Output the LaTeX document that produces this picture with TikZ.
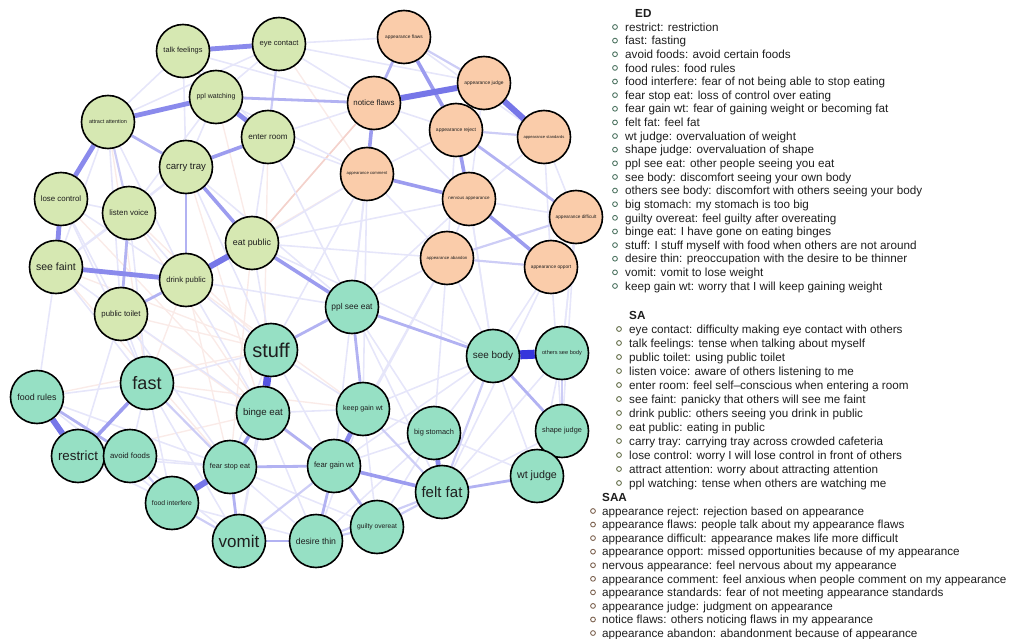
\documentclass[tikz,border=0pt]{standalone}
\usepackage{fontspec}
\setmainfont{Liberation Sans}
\usetikzlibrary{backgrounds}
\definecolor{sacol}{HTML}{D6E8B2}
\definecolor{edcol}{HTML}{96E0C4}
\definecolor{saacol}{HTML}{FACCAA}
\definecolor{txtcol}{HTML}{1E1E1E}
\definecolor{cb1}{HTML}{E6E6FA}
\definecolor{cb2}{HTML}{CDCDF6}
\definecolor{cb3}{HTML}{B2B2F2}
\definecolor{cb4}{HTML}{9C9CEF}
\definecolor{cb5}{HTML}{8A8AEC}
\definecolor{cb6}{HTML}{7676E8}
\definecolor{cb8}{HTML}{5555E2}
\definecolor{cb9}{HTML}{3535DC}
\definecolor{cr1}{HTML}{FAEBE8}
\definecolor{cr2}{HTML}{F4D2CC}
\definecolor{buled}{HTML}{4F7563}
\definecolor{bulsa}{HTML}{66704C}
\definecolor{bulsaa}{HTML}{7E6452}
\newcommand\nfs[1]{\fontsize{#1}{#1}\selectfont}
\tikzset{
  vx/.style={circle, draw=black, line width=1.6pt, minimum size=53pt, inner sep=0pt, text=txtcol},
  sa/.style={vx, fill=sacol},
  ed/.style={vx, fill=edcol},
  saa/.style={vx, fill=saacol},
  bl1/.style={draw=cb1, line width=1.6pt},
  bl2/.style={draw=cb2, line width=2.2pt},
  bl3/.style={draw=cb3, line width=2.8pt},
  bl4/.style={draw=cb4, line width=3.6pt},
  bl5/.style={draw=cb5, line width=4.8pt},
  bl6/.style={draw=cb6, line width=6pt},
  bl8/.style={draw=cb8, line width=7.5pt},
  bl9/.style={draw=cb9, line width=9pt},
  rd1/.style={draw=cr1, line width=1.4pt},
  rd2/.style={draw=cr2, line width=1.6pt},
  legtxt/.style={anchor=base west, inner sep=0pt, font=\nfs{11.7}, text=txtcol},
  leghead/.style={anchor=base west, inner sep=0pt, font=\nfs{11.7}\bfseries, text=txtcol},
  bul/.style={circle, draw=#1, line width=0.9pt, minimum size=4.8pt, inner sep=0pt},
}
\begin{document}
\begin{tikzpicture}[x=1pt,y=-1pt]
\useasboundingbox (0,0) rectangle (1009,639);
% ---- SA nodes
\node[sa, font=\nfs{7.4}] (tf) at (183,51) {talk feelings};
\node[sa, font=\nfs{7.6}] (ec) at (279,44) {eye contact};
\node[sa, font=\nfs{7.0}] (pw) at (216,97) {ppl watching};
\node[sa, font=\nfs{5.5}] (aa) at (108,122) {attract attention};
\node[sa, font=\nfs{8.1}] (er) at (268,137) {enter room};
\node[sa, font=\nfs{9.6}] (ct) at (186,167) {carry tray};
\node[sa, font=\nfs{7.9}] (lc) at (61,199) {lose control};
\node[sa, font=\nfs{7.9}] (lv) at (129,213) {listen voice};
\node[sa, font=\nfs{8.9}] (ep) at (252,243) {eat public};
\node[sa, font=\nfs{10.5}] (sf) at (56,267) {see faint};
\node[sa, font=\nfs{7.8}] (dp) at (186,280) {drink public};
\node[sa, font=\nfs{7.8}] (pt) at (121,314) {public toilet};
% ---- SAA nodes
\node[saa, font=\nfs{4.8}] (af) at (404,37) {appearance flaws};
\node[saa, font=\nfs{4.9}] (aj) at (484,83) {appearance judge};
\node[saa, font=\nfs{7.9}] (nf) at (374,103) {notice flaws};
\node[saa, font=\nfs{5.0}] (ar) at (456,130) {appearance reject};
\node[saa, font=\nfs{4.1}] (as) at (544,137) {appearance standards};
\node[saa, font=\nfs{4.2}] (ac) at (367,174) {appearance comment};
\node[saa, font=\nfs{4.5}] (na) at (469,199) {nervous appearance};
\node[saa, font=\nfs{4.7}] (ad) at (576,217) {appearance difficult};
\node[saa, font=\nfs{4.3}] (ab) at (447,258) {appearance abandon};
\node[saa, font=\nfs{4.8}] (ao) at (551,267) {appearance opport};
% ---- ED nodes
\node[ed, font=\nfs{8.4}] (pse) at (352,307) {ppl see eat};
\node[ed, font=\nfs{20}] (st) at (271,350) {stuff};
\node[ed, font=\nfs{18}] (fa) at (147,383) {fast};
\node[ed, font=\nfs{8.9}] (fr) at (37,397) {food rules};
\node[ed, font=\nfs{9.7}] (be) at (263,413) {binge eat};
\node[ed, font=\nfs{13.3}] (re) at (78,456) {restrict};
\node[ed, font=\nfs{7.8}] (av) at (130,456) {avoid foods};
\node[ed, font=\nfs{7.2}] (fse) at (230,467) {fear stop eat};
\node[ed, font=\nfs{6.8}] (fi) at (172,503) {food interfere};
\node[ed, font=\nfs{17}] (vo) at (239,541) {vomit};
\node[ed, font=\nfs{8.7}] (dt) at (316,541) {desire thin};
\node[ed, font=\nfs{9.9}] (sb) at (493,356) {see body};
\node[ed, font=\nfs{5.6}] (osb) at (562,353) {others see body};
\node[ed, font=\nfs{7.1}] (kgw) at (363,409) {keep gain wt};
\node[ed, font=\nfs{7.4}] (bs) at (434,433) {big stomach};
\node[ed, font=\nfs{7.3}] (sj) at (562,431) {shape judge};
\node[ed, font=\nfs{7.7}] (fgw) at (334,466) {fear gain wt};
\node[ed, font=\nfs{10.7}] (wj) at (537,476) {wt judge};
\node[ed, font=\nfs{15}] (ff) at (442,492) {felt fat};
\node[ed, font=\nfs{6.7}] (go) at (377,527) {guilty overeat};
% ---- edges
\begin{pgfonlayer}{background}
\foreach \a/\b in {nf/ep, ec/ac, ac/dp, st/lv, sf/st, pt/st, dp/fse, lv/be, lc/be, fr/st, fa/dp, ct/be, er/be, aa/fa,
  pw/ep, sf/fse, pt/fgw, dp/kgw, ep/fse, fa/kgw, re/be}
  \draw[rd1] (\a) -- (\b);
\draw[rd2] (nf) -- (ep);
% faint web
\foreach \a/\b in {tf/aa, tf/er, tf/ct, ec/pw, ec/aa, ec/af, ec/nf, pw/ct, pw/lv, aa/sf, aa/dp, er/ep, er/nf, er/ac,
  ct/lv, ct/sf, ct/pse, lc/lv, lc/dp, lc/pt, lv/sf, lv/dp, sf/pt, ep/ac, ep/na, ep/st, dp/st, dp/be, pt/fa, pt/fse, pt/be,
  pse/ab, pse/na, pse/ac, pse/fgw, pse/ff, pse/bs, st/fa, st/fse, st/kgw, st/fgw, st/vo, fa/fr, fa/av, fa/be, fa/fi, fa/vo,
  fr/fi, fr/fse, re/fi, re/fse, av/fse, av/vo, be/vo, be/kgw, be/dt, fse/dt, fse/go, fi/dt, kgw/bs, kgw/dt, kgw/go, kgw/sb,
  bs/sb, bs/go, bs/dt, bs/wj, bs/fgw, fgw/sb, ff/sj, ff/osb, wj/sb, wj/osb, sj/ad, sb/ab, sb/ao, sb/na, osb/ad, ac/ab, ac/ar,
  nf/na, nf/ar, af/as, aj/na, as/na, as/ad, as/ao, na/ad, na/ab, ar/ab, ao/sj, ab/fgw, ac/kgw, ab/bs, tf/nf, pw/ac, ec/aj,
  er/pse, ep/sb, dp/pse, lv/fa, sf/fa, pt/re, ct/st, aa/pt, ep/ab, ac/st, nf/pse, ad/osb, ao/ff, ab/kgw, na/sb, fr/sf, lc/fa}
  \draw[bl1] (\a) -- (\b);
% medium and strong
\foreach \a/\b in {tf/pw, ec/er, aa/lv, ab/ao, af/aj, ar/as, ab/ad, dt/go, fi/vo, av/fi, fa/fse, kgw/ff, dt/ff, go/ff, sb/ff, osb/sj, fgw/vo}
  \draw[bl2] (\a) -- (\b);
\foreach \a/\b in {ct/dp, lv/pt, pw/nf, aa/ct, af/nf, ar/ad, ff/wj, sb/sj, pse/sb, pse/st, pse/kgw, vo/dt, vo/fse, fr/av, dt/fgw, be/fgw, fse/fgw, fgw/go, dp/pt}
  \draw[bl3] (\a) -- (\b);
\foreach \a/\b in {er/ct, nf/ac, ac/na, ep/pse, ct/ep, af/ar, ar/na, na/ao, re/fa, fse/be, fgw/ff}
  \draw[bl4] (\a) -- (\b);
\foreach \a/\b in {bs/ff, tf/ec, pw/aa, pw/er, aa/lc, lc/sf, sf/dp, re/av, kgw/fgw}
  \draw[bl5] (\a) -- (\b);
\foreach \a/\b in {fse/fi, fr/re, nf/aj, aj/as, dp/ep}
  \draw[bl6] (\a) -- (\b);
\draw[bl8] (st) -- (be);
\draw[bl9] (sb) -- (osb);
\end{pgfonlayer}
% ---- legend
\node[leghead] (hed) at (635,17.5) {ED};
\foreach \t [count=\i from 0] in {restrict: restriction, fast: fasting, avoid foods: avoid certain foods, food rules: food rules,
  food interfere: fear of not being able to stop eating, fear stop eat: loss of control over eating,
  fear gain wt: fear of gaining weight or becoming fat, felt fat: feel fat, wt judge: overvaluation of weight,
  shape judge: overvaluation of shape, ppl see eat: other people seeing you eat, see body: discomfort seeing your own body,
  others see body: discomfort with others seeing your body, big stomach: my stomach is too big,
  guilty overeat: feel guilty after overeating, binge eat: I have gone on eating binges,
  stuff: I stuff myself with food when others are not around, desire thin: preoccupation with the desire to be thinner,
  vomit: vomit to lose weight, keep gain wt: worry that I will keep gaining weight} {
  \node[bul=buled] (edb\i) at (615,{27+13.63*\i}) {};
  \node[legtxt] (edt\i) at (625,{31.2+13.63*\i}) {\t};
}
\node[leghead] (hsa) at (629,319.5) {SA};
\foreach \t [count=\i from 0] in {eye contact: difficulty making eye contact with others, talk feelings: tense when talking about myself,
  public toilet: using public toilet, listen voice: aware of others listening to me,
  enter room: feel self–conscious when entering a room, see faint: panicky that others will see me faint,
  drink public: others seeing you drink in public, eat public: eating in public,
  carry tray: carrying tray across crowded cafeteria, lose control: worry I will lose control in front of others,
  attract attention: worry about attracting attention, ppl watching: tense when others are watching me} {
  \node[bul=bulsa] (sab\i) at (619,{329+14.0*\i}) {};
  \node[legtxt] (sat\i) at (629,{333.2+14.0*\i}) {\t};
}
\node[leghead] (hsaa) at (602,501.5) {SAA};
\foreach \t [count=\i from 0] in {appearance reject: rejection based on appearance,
  appearance flaws: people talk about my appearance flaws, appearance difficult: appearance makes life more difficult,
  appearance opport: missed opportunities because of my appearance, nervous appearance: feel nervous about my appearance,
  appearance comment: feel anxious when people comment on my appearance,
  appearance standards: fear of not meeting appearance standards, appearance judge: judgment on appearance,
  notice flaws: others noticing flaws in my appearance, appearance abandon: abandonment because of appearance} {
  \node[bul=bulsaa] (saab\i) at (593,{511+13.56*\i}) {};
  \node[legtxt] (saat\i) at (602,{515.2+13.56*\i}) {\t};
}
\end{tikzpicture}
\end{document}
